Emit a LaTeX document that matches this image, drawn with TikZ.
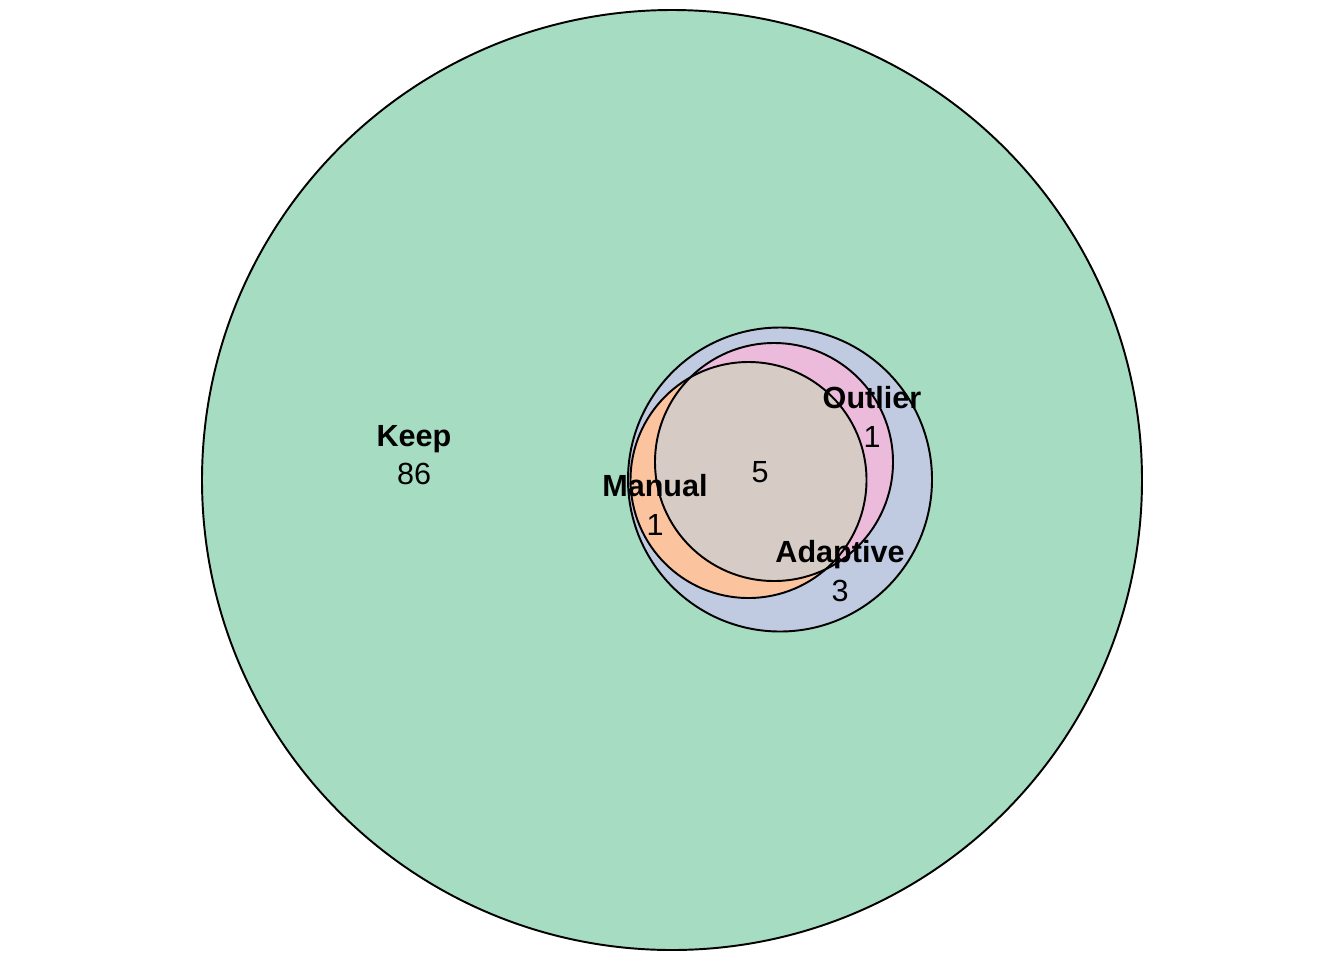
\documentclass[tikz,border=0pt]{standalone}
\usepackage{fontspec}
\setmainfont{Liberation Sans}
\usepackage{tikz}
\definecolor{keepcol}{HTML}{A5DCC2}
\definecolor{adaptcol}{HTML}{C0CAE1}
\definecolor{outlcol}{HTML}{ECBADB}
\definecolor{mancol}{HTML}{FCC49E}
\definecolor{corecol}{HTML}{D7CBC6}

\begin{document}
\begin{tikzpicture}[x=0.1mm, y=-0.1mm,
    setline/.style={draw=black, line width=0.55pt},
    setlabel/.style={align=center, inner sep=0pt, font=\fontsize{8.7}{11}\selectfont}]
      \useasboundingbox (0,0) rectangle (1344,960);
      % circle centres
      \coordinate (keep) at (672,480);
      \coordinate (adapt) at (780,479.5);
      \coordinate (outl) at (774,462);
      \coordinate (man) at (748.5,480);
      % fills
      \fill[keepcol] (keep) circle[radius=47mm];
      \fill[adaptcol] (adapt) circle[radius=15.2mm];
      \fill[outlcol] (outl) circle[radius=11.9mm];
      \fill[mancol] (man) circle[radius=11.8mm];
      \begin{scope}
        \clip (outl) circle[radius=11.9mm];
        \fill[corecol] (man) circle[radius=11.8mm];
      \end{scope}
      % outlines
      \draw[setline] (keep) circle[radius=47mm];
      \draw[setline] (adapt) circle[radius=15.2mm];
      \draw[setline] (outl) circle[radius=11.9mm];
      \draw[setline] (man) circle[radius=11.8mm];
      % labels
      \node[setlabel] (keeplab) at (414,455) {\textbf{Keep}\\86};
      \node[setlabel] (outllab) at (872,417) {\textbf{Outlier}\\1};
      \node[setlabel] (manlab) at (655,505) {\textbf{Manual}\\1};
      \node[setlabel] (adaptlab) at (840,571) {\textbf{Adaptive}\\3};
      \node[setlabel] (corelab) at (760,472) {5};
\end{tikzpicture}
\end{document}
